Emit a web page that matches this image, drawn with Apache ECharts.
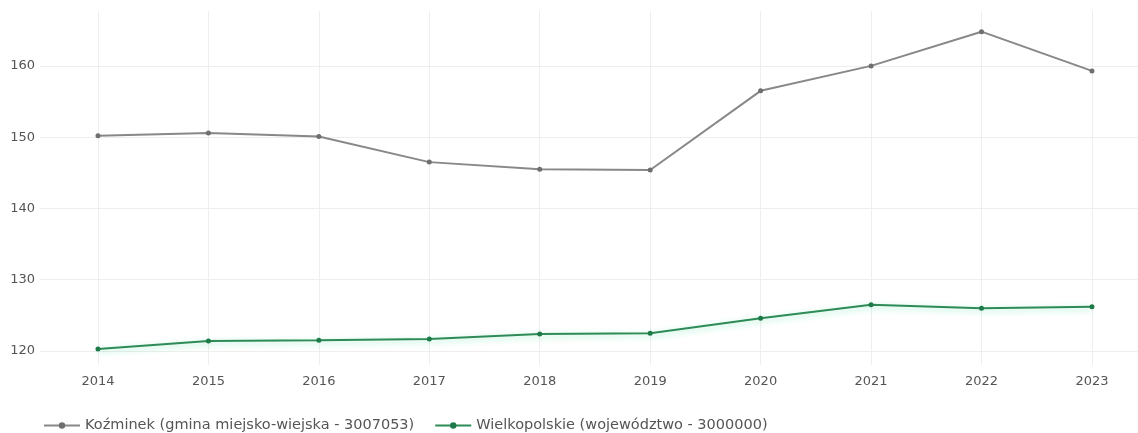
<!DOCTYPE html>
<html>
<head>
<meta charset="utf-8">
<script src="https://cdn.jsdelivr.net/npm/echarts@6/dist/echarts.min.js"></script>
<style>
  html, body { margin: 0; padding: 0; background: #fff; }
  #chart { width: 1138px; height: 433px; }
</style>
</head>
<body>
<div id="chart"></div>
<script>
const years = [2014, 2015, 2016, 2017, 2018, 2019, 2020, 2021, 2022, 2023];
const kozminek = [150.2, 150.6, 150.1, 146.5, 145.5, 145.4, 156.5, 160.0, 164.8, 159.3];
const wielkopolskie = [120.3, 121.4, 121.5, 121.7, 122.4, 122.5, 124.6, 126.5, 126.0, 126.2];
const yTicks = [120, 130, 140, 150, 160];
const seriesNames = ['Koźminek (gmina miejsko-wiejska - 3007053)', 'Wielkopolskie (województwo - 3000000)'];

const chart = echarts.init(document.getElementById('chart'));
const textColor = '#555';
const axisFont = '"DejaVu Sans", Verdana, sans-serif';

chart.setOption({
  animation: false,
  backgroundColor: '#fff',
  grid: { left: 40, right: 0, top: 11, bottom: 68, containLabel: false },
  xAxis: {
    type: 'value',
    min: 2013.475,
    max: 2023.417,
    axisLine: { show: false },
    axisTick: { show: false, customValues: years },
    axisLabel: { customValues: years, color: textColor, fontSize: 13, fontFamily: axisFont, margin: 10,
                 formatter: v => String(v) },
    splitLine: { show: true, lineStyle: { color: '#eeeeee', width: 1 } }
  },
  yAxis: {
    type: 'value',
    min: 118.04,
    max: 167.7,
    axisLine: { show: false },
    axisTick: { show: false, customValues: yTicks },
    axisLabel: { customValues: yTicks, color: textColor, fontSize: 13, fontFamily: axisFont, margin: 5 },
    splitLine: { show: true, lineStyle: { color: '#eeeeee', width: 1 } }
  },
  legend: {
    left: 38,
    top: 413,
    itemWidth: 36,
    itemHeight: 8,
    itemGap: 20,
    textStyle: { color: '#555', fontSize: 14.5, fontFamily: axisFont },
    data: seriesNames
  },
  series: [
    {
      name: seriesNames[0],
      type: 'line',
      data: years.map((y, i) => [y, kozminek[i]]),
      symbol: 'circle',
      symbolSize: 5,
      showSymbol: true,
      lineStyle: { color: '#888888', width: 2 },
      itemStyle: { color: '#6f6f6f' }
    },
    {
      name: seriesNames[1],
      type: 'line',
      data: years.map((y, i) => [y, wielkopolskie[i]]),
      symbol: 'circle',
      symbolSize: 5,
      showSymbol: true,
      lineStyle: { color: '#2e8b57', width: 2, shadowColor: 'rgba(46, 220, 140, 0.45)', shadowBlur: 6, shadowOffsetY: 2 },
      itemStyle: { color: '#1f7a4a' }
    }
  ]
});
</script>
</body>
</html>
